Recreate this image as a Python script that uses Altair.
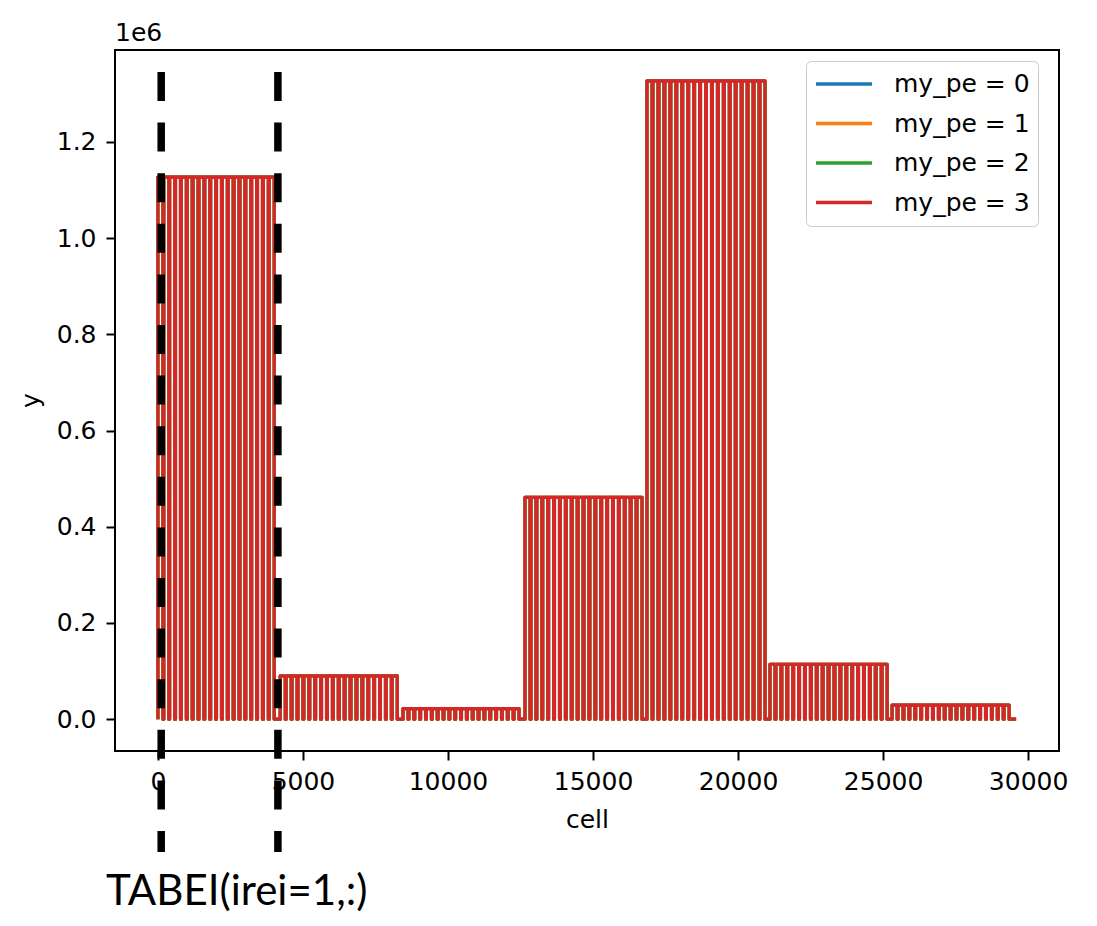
import altair as alt
import pandas as pd

# ---- data ----
series_labels = ["my_pe = 0", "my_pe = 1", "my_pe = 2", "my_pe = 3"]
series_colors = ["#1f77b4", "#ff7f0e", "#2ca02c", "#d62728"]

# seven blocks of the comb signal (cell start, cell end, plateau height)
block_start = [0, 4217, 8450, 12655, 16860, 21100, 25310]
block_end = [4010, 8252, 12450, 16690, 20930, 25140, 29345]
block_heights = [1.127e6, 0.090e6, 0.022e6, 0.461e6, 1.327e6, 0.114e6, 0.029e6]
teeth_per_block = 20
dip_cells = 28
last_cell = 29585

dash_cells = [114, 4137]

x_ticks = [0, 5000, 10000, 15000, 20000, 25000, 30000]
y_ticks = [0, 200000, 400000, 600000, 800000, 1000000, 1200000]
x_domain = [-1479, 31064]
y_domain = [-66250, 1391250]

# ---- build the comb line from the block values ----
cells, vals = [], []
for s, e, h in zip(block_start, block_end, block_heights):
    w = (e - s - (teeth_per_block - 1) * dip_cells) / teeth_per_block
    for j in range(teeth_per_block):
        a = s + j * (w + dip_cells)
        b = a + w
        cells += [a, a, b, b]
        vals += [0, h, h, 0]
cells.append(last_cell)
vals.append(0)

rows = []
for lab in series_labels:
    for i, (c, v) in enumerate(zip(cells, vals)):
        rows.append({"series": lab, "cell": c, "y": v, "idx": i})
df = pd.DataFrame(rows)

df_dash = pd.DataFrame({"cell": dash_cells})
df_e6 = pd.DataFrame({"label": ["1e6"]})
df_note = pd.DataFrame({"label": ["TABEI(irei=1,:)"]})

FONT = "DejaVu Sans"

xscale = alt.Scale(domain=x_domain, nice=False, zero=False)
yscale = alt.Scale(domain=y_domain, nice=False, zero=False)

lines = alt.Chart(df).mark_line(strokeWidth=3.2, strokeJoin="round").encode(
    x=alt.X("cell:Q", scale=xscale,
            axis=alt.Axis(values=x_ticks, format="d", title="cell",
                          labelBaseline="alphabetic", labelPadding=29,
                          titleX=472, titleY=76, titleBaseline="alphabetic")),
    y=alt.Y("y:Q", scale=yscale,
            axis=alt.Axis(values=y_ticks,
                          labelExpr="format(datum.value / 1000000, '.1f')",
                          title="y", labelPadding=10,
                          titleX=-77, titleY=350, titleBaseline="alphabetic")),
    color=alt.Color("series:N",
                    scale=alt.Scale(domain=series_labels, range=series_colors),
                    legend=alt.Legend(title=None, orient="none", legendX=691, legendY=11,
                                      symbolType="stroke", symbolSize=3136,
                                      symbolStrokeWidth=3.5, symbolOpacity=1,
                                      labelFontSize=25, labelFont=FONT, labelColor="black",
                                      labelOffset=20, padding=8, clipHeight=30,
                                      rowPadding=9.5, fillColor="white",
                                      strokeColor="#cccccc", cornerRadius=5)),
    order=alt.Order("idx:Q"),
)

dashes = alt.Chart(df_dash).mark_rule(
    color="black", strokeWidth=7.5, strokeDash=[29, 21.6], clip=False
).encode(
    x=alt.X("cell:Q", scale=xscale),
    y=alt.value(22),
    y2=alt.value(802),
)

e6 = alt.Chart(df_e6).mark_text(
    align="left", baseline="alphabetic", fontSize=25, font=FONT, color="black"
).encode(x=alt.value(0), y=alt.value(-9), text="label:N")

note = alt.Chart(df_note).mark_text(
    align="left", baseline="alphabetic", fontSize=42, font="Lato", color="black"
).encode(x=alt.value(-9), y=alt.value(855), text="label:N")

chart = alt.layer(lines, dashes, e6, note).properties(
    width=944,
    height=701,
    title=alt.TitleParams("tabei1", fontSize=30, font=FONT, fontWeight="normal",
                          color="black", frame="group", baseline="alphabetic", offset=15),
    autosize=alt.AutoSizeParams(type="none"),
    padding={"left": 107, "top": 42, "right": 28, "bottom": 166},
).configure_view(
    stroke="black", strokeWidth=2
).configure_axis(
    domain=False, grid=False, tickColor="black", tickWidth=2, tickSize=9,
    labelFontSize=25, labelFont=FONT, labelColor="black",
    titleFontSize=25, titleFont=FONT, titleFontWeight="normal", titleColor="black",
)

chart.save("out.html", embed_options={"renderer": "svg", "actions": False})
